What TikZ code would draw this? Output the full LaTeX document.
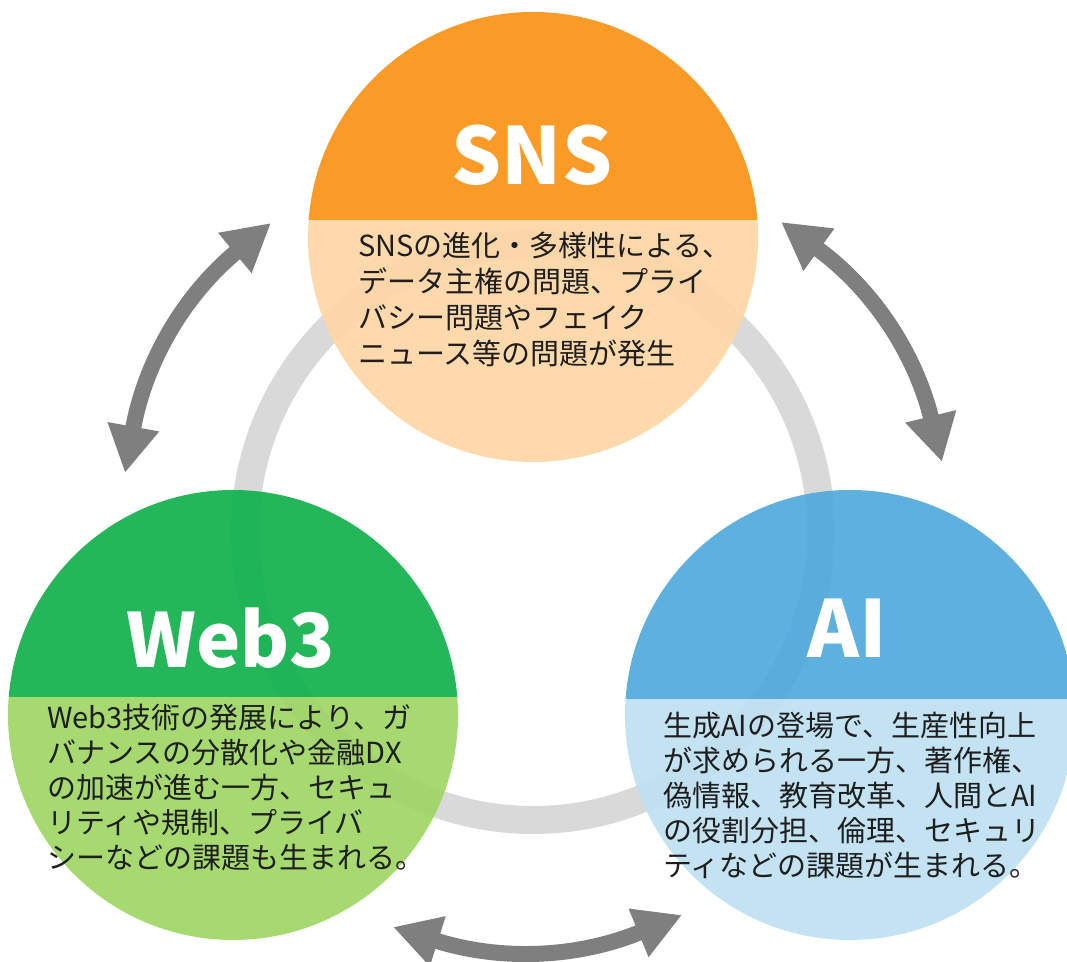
\documentclass[tikz,border=0pt]{standalone}
\usepackage{fontspec}
\newfontfamily\jp{Noto Sans CJK JP}
\usetikzlibrary{arrows.meta}

\definecolor{ringgray}{RGB}{217,217,217}
\definecolor{arrowgray}{RGB}{127,127,127}
\definecolor{textdark}{RGB}{30,30,30}
\definecolor{snstop}{RGB}{248,147,19}
\definecolor{snsbot}{RGB}{253,214,164}
\definecolor{webtop}{RGB}{16,177,76}
\definecolor{webbot}{RGB}{158,214,100}
\definecolor{aitop}{RGB}{80,170,220}
\definecolor{aibot}{RGB}{190,224,241}

% two-tone disc: centre x, centre y, divider y, upper colour, lower colour
\newcommand\splitdisc[5]{%
  \begin{scope}
    \clip (#1,#2) circle[radius=225];
    \fill[#4, opacity=0.92] (#1-230,#3) rectangle (#1+230,#2+230);
    \fill[#5, opacity=0.92] (#1-230,#2-230) rectangle (#1+230,#3);
  \end{scope}}

\begin{document}
\begin{tikzpicture}[x=0.75pt,y=0.75pt,
  ringline/.style={draw=ringgray, line width=21pt},
  linkarrow/.style={draw=arrowgray, line width=12pt,
    {Triangle[width=36.75pt,length=35.25pt]}-{Triangle[width=36.75pt,length=35.25pt]}},
  topic/.style={circle, minimum size=337.5pt, inner sep=0pt},
  title/.style={font=\jp\bfseries\fontsize{59}{59}\selectfont, text=white,
    inner sep=0pt, anchor=base},
  body/.style={font=\jp\fontsize{21.75}{26.25}\selectfont, text=textdark,
    align=left, inner sep=0pt, anchor=north west}]

\useasboundingbox (0,0) rectangle (1067,962);
\clip (0,0) rectangle (1067,962);

% background cycle ring
\coordinate (hub) at (533,430);
\draw[ringline] (hub) circle[radius=288];

% the three topic discs
\splitdisc{533}{725}{742}{snstop}{snsbot}
\splitdisc{233}{247}{265}{webtop}{webbot}
\splitdisc{850}{247}{263}{aitop}{aibot}
\node[topic] (sns) at (533,725) {};
\node[topic] (web) at (233,247) {};
\node[topic] (ai)  at (850,247) {};

% titles
\node[title] (snsT) at (532,777) {SNS};
\node[title, font=\jp\bfseries\fontsize{56}{56}\selectfont] (webT) at (231,294) {Web3};
\node[title] (aiT)  at (847,304) {AI};

% descriptions
\node[body, font=\jp\fontsize{21.75}{27}\selectfont] (snsD) at (358,730)
  {SNSの進化・多様性による、\\データ主権の問題、プライ\\バシー問題やフェイク\\ニュース等の問題が発生};
\node[body] (webD) at (47,258)
  {Web3技術の発展により、ガ\\バナンスの分散化や金融DX\\の加速が進む一方、セキュ\\リティや規制、プライバ\\シーなどの課題も生まれる。};
\node[body] (aiD) at (663,250)
  {生成AIの登場で、生産性向上\\が求められる一方、著作権、\\偽情報、教育改革、人間とAI\\の役割分担、倫理、セキュリ\\ティなどの課題が生まれる。};

% two-way links between the topics
\coordinate (webUp)   at (125,489);
\coordinate (snsLeft) at (271,739);
\coordinate (snsRight) at (781,740);
\coordinate (aiUp)    at (942,500);
\coordinate (webDown) at (393,35);
\coordinate (aiDown)  at (682,47);
\draw[linkarrow] (webUp) to[bend left=20] (snsLeft);
\draw[linkarrow] (snsRight) to[bend left=20] (aiUp);
\draw[linkarrow] (webDown) to[bend right=20] (aiDown);
\end{tikzpicture}
\end{document}
